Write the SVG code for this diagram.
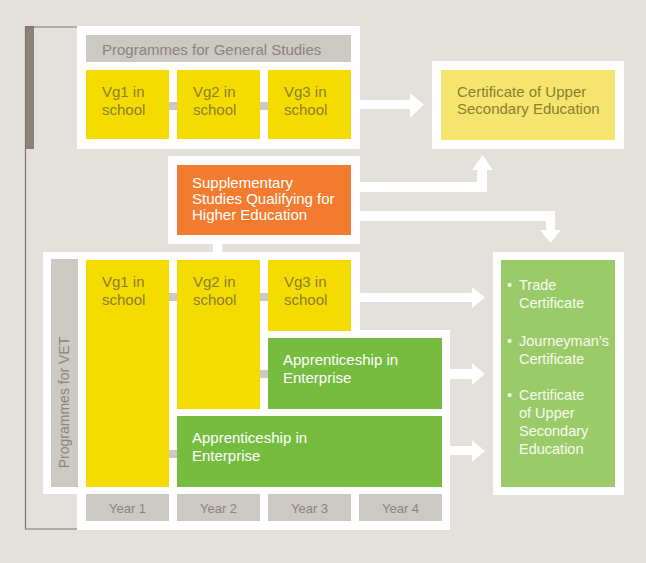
<svg xmlns="http://www.w3.org/2000/svg" width="646" height="563" viewBox="0 0 646 563">
<style>
  text { font-family: "Liberation Sans", Arial, sans-serif; }
  .frame { fill: #FFFFFF; }
  .gray { fill: #CCC8C2; }
  .yel { fill: #F5DC00; }
  .grn { fill: #76BC3F; }
  .conn { fill: #CCC8C2; }
  .arrow { fill: #FFFFFF; }
  .tY { font-size: 15px; fill: #8C7E2E; }
  .tG { font-size: 15px; fill: #8A857E; }
  .tW { font-size: 15px; fill: #FFFFFF; }
  .tC { font-size: 14.5px; fill: #F7FAEF; }
  .tYr { font-size: 13px; fill: #8A857E; text-anchor: middle; }
</style>
<rect x="0" y="0" width="646" height="563" fill="#E4E1DC"/>

<g id="bracket">
  <rect x="25" y="26" width="9" height="123" fill="#8B8175"/>
  <path d="M77,27 H25.5 V529 H77" fill="none" stroke="#7D756B" stroke-width="1.2"/>
</g>

<g id="general-studies">
  <rect class="frame" x="77" y="26" width="283" height="123"/>
  <rect class="gray" x="86" y="35" width="265" height="27"/>
  <text class="tG" x="102" y="55">Programmes for General Studies</text>
</g>
<g id="gen-vg1">
  <rect class="yel" x="86" y="70" width="83" height="69"/>
  <text class="tY" x="102" y="97">Vg1 in</text>
  <text class="tY" x="102" y="115">school</text>
</g>
<g id="gen-vg2">
  <rect class="yel" x="177" y="70" width="83" height="69"/>
  <text class="tY" x="193" y="97">Vg2 in</text>
  <text class="tY" x="193" y="115">school</text>
</g>
<g id="gen-vg3">
  <rect class="yel" x="268" y="70" width="83" height="69"/>
  <text class="tY" x="284" y="97">Vg3 in</text>
  <text class="tY" x="284" y="115">school</text>
</g>

<g id="cert-upper-secondary">
  <rect class="frame" x="432" y="61" width="192" height="88"/>
  <rect x="441" y="70" width="174" height="70" fill="#F5E56E"/>
  <text class="tY" x="457" y="97">Certificate of Upper</text>
  <text class="tY" x="457" y="114">Secondary Education</text>
</g>

<g id="supplementary">
  <rect class="frame" x="168" y="156" width="192" height="88"/>
  <rect x="177" y="165" width="174" height="70" fill="#F37B30"/>
  <text class="tW" x="192" y="188">Supplementary</text>
  <text class="tW" x="192" y="204">Studies Qualifying for</text>
  <text class="tW" x="192" y="220">Higher Education</text>
</g>

<g id="vet">
  <path class="frame" d="M43,252 H360 V330 H450 V494 H43 Z"/>
  <rect class="frame" x="77" y="494" width="373" height="36"/>
  <rect class="gray" x="51" y="259" width="27" height="228"/>
  <text class="tG" style="font-size:14px" text-anchor="middle" x="69" y="402.5" transform="rotate(-90 69 402.5)">Programmes for VET</text>
</g>
<g id="vet-vg1">
  <rect class="yel" x="86" y="260" width="83" height="227"/>
  <text class="tY" x="102" y="287">Vg1 in</text>
  <text class="tY" x="102" y="305">school</text>
</g>
<g id="vet-vg2">
  <rect class="yel" x="177" y="260" width="83" height="149"/>
  <text class="tY" x="193" y="287">Vg2 in</text>
  <text class="tY" x="193" y="305">school</text>
</g>
<g id="vet-vg3">
  <rect class="yel" x="268" y="260" width="83" height="71"/>
  <text class="tY" x="284" y="287">Vg3 in</text>
  <text class="tY" x="284" y="305">school</text>
</g>
<g id="apprenticeship-1">
  <rect class="grn" x="268" y="338" width="174" height="71"/>
  <text class="tW" x="283" y="365">Apprenticeship in</text>
  <text class="tW" x="283" y="383">Enterprise</text>
</g>
<g id="apprenticeship-2">
  <rect class="grn" x="177" y="416" width="265" height="71"/>
  <text class="tW" x="192" y="443">Apprenticeship in</text>
  <text class="tW" x="192" y="461">Enterprise</text>
</g>

<g id="years">
  <rect class="gray" x="86" y="494" width="83" height="27"/>
  <rect class="gray" x="177" y="494" width="83" height="27"/>
  <rect class="gray" x="268" y="494" width="83" height="27"/>
  <rect class="gray" x="359" y="494" width="83" height="27"/>
  <text class="tYr" x="127.5" y="513">Year 1</text>
  <text class="tYr" x="218.5" y="513">Year 2</text>
  <text class="tYr" x="309.5" y="513">Year 3</text>
  <text class="tYr" x="400.5" y="513">Year 4</text>
</g>

<g id="vet-certificates">
  <rect class="frame" x="493" y="252" width="131" height="243"/>
  <rect x="501" y="260" width="114" height="227" fill="#9BCB69"/>
  <text class="tC" x="507" y="290">•</text>
  <text class="tC" x="519" y="290">Trade</text>
  <text class="tC" x="519" y="308">Certificate</text>
  <text class="tC" x="507" y="346">•</text>
  <text class="tC" x="519" y="346">Journeyman’s</text>
  <text class="tC" x="519" y="364">Certificate</text>
  <text class="tC" x="507" y="400">•</text>
  <text class="tC" x="519" y="400">Certificate</text>
  <text class="tC" x="519" y="418">of Upper</text>
  <text class="tC" x="519" y="436">Secondary</text>
  <text class="tC" x="519" y="454">Education</text>
</g>

<g id="connectors">
  <rect class="conn" x="169" y="102" width="8" height="8"/>
  <rect class="conn" x="260" y="102" width="8" height="8"/>
  <rect class="conn" x="169" y="293" width="8" height="8"/>
  <rect class="conn" x="260" y="293" width="8" height="8"/>
  <rect class="conn" x="260" y="370" width="8" height="8"/>
  <rect class="conn" x="169" y="450" width="8" height="8"/>
  <rect class="frame" x="213" y="243" width="9" height="10"/>
  <path class="arrow" d="M360,100 H410 V93 L424,104.5 L410,118 V109 H360 Z"/>
  <path class="arrow" d="M360,182 H477 V170 H472 L482.5,155 L493,170 H487 V192 H360 Z"/>
  <path class="arrow" d="M360,211 H555 V230 H561 L550.5,243 L540,230 H546 V221 H360 Z"/>
  <path class="arrow" d="M360,293 H472 V287 L485,297.5 L472,308 V302 H360 Z"/>
  <path class="arrow" d="M450,369 H472 V363 L485,374 L472,385 V379 H450 Z"/>
  <path class="arrow" d="M450,446 H472 V440 L485,451 L472,462 V455 H450 Z"/>
</g>
</svg>
